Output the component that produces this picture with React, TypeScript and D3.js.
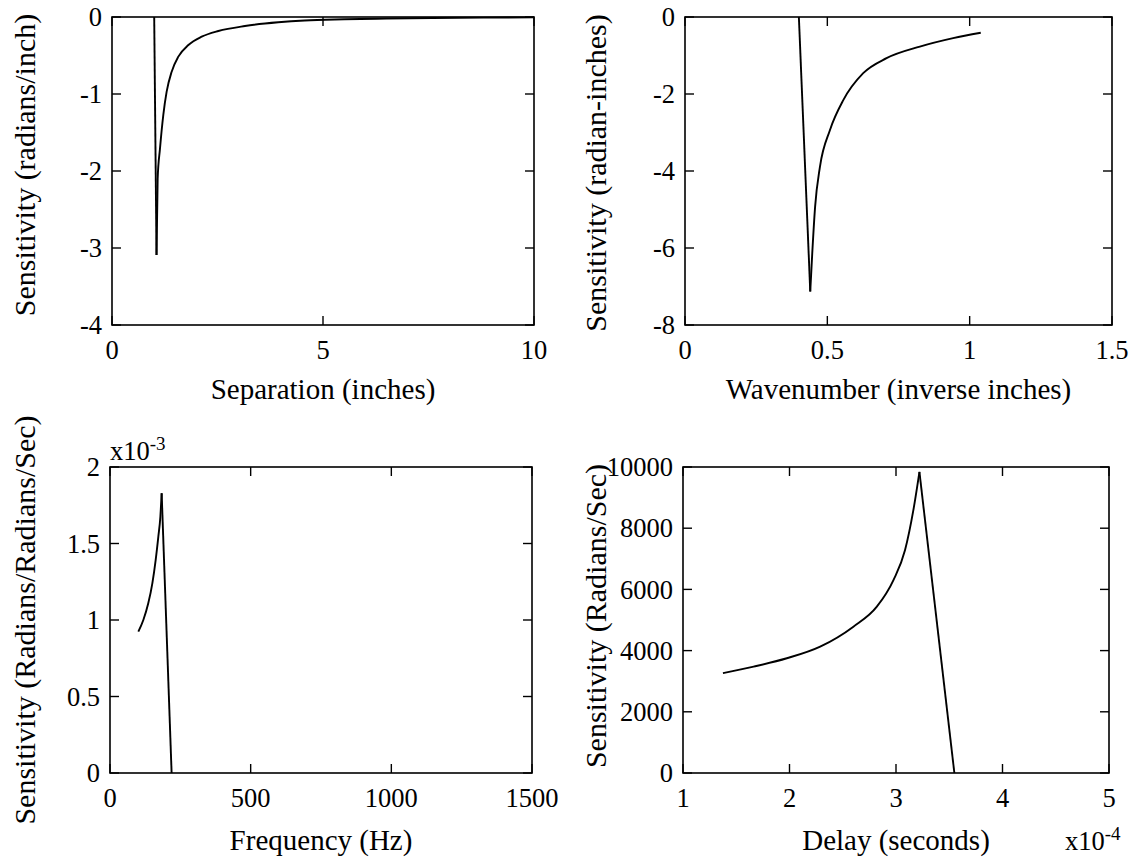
import React from "react";
import * as d3 from "d3";

// Panel 1: Separation (inches) vs Sensitivity (radians/inch)
const sepX = [1.0, 1.055, 1.082, 1.137, 1.216, 1.295, 1.414, 1.572, 1.81, 2.125, 2.52, 3.15, 3.94, 4.57, 5.5, 6.5, 7.6, 8.8, 10];
const sepY = [0, -3.09, -2.10, -1.71, -1.27, -0.97, -0.71, -0.515, -0.364, -0.256, -0.182, -0.117, -0.069, -0.045, -0.03, -0.02, -0.013, -0.008, -0.005];
const sepXTicks = [0, 5, 10];
const sepYTicks = [0, -1, -2, -3, -4];

// Panel 2: Wavenumber (inverse inches) vs Sensitivity (radian-inches)
const waveX = [0.4, 0.44, 0.447, 0.457, 0.474, 0.509, 0.556, 0.626, 0.708, 0.825, 0.942, 1.039];
const waveY = [0, -7.13, -6.14, -4.93, -3.89, -2.94, -2.16, -1.46, -1.07, -0.77, -0.55, -0.41];
const waveXTicks = [0, 0.5, 1, 1.5];
const waveYTicks = [0, -2, -4, -6, -8];

// Panel 3: Frequency (Hz) vs Sensitivity (x10^-3)
const freqX = [100.7, 118.5, 136, 150.5, 162.3, 171.8, 179, 183.6, 219];
const freqY = [0.924, 1.0, 1.109, 1.24, 1.392, 1.545, 1.675, 1.828, 0];
const freqXTicks = [0, 500, 1000, 1500];
const freqYTicks = [0, 0.5, 1, 1.5, 2];

// Panel 4: Delay (x10^-4 seconds) vs Sensitivity (Radians/Sec)
const delayX = [1.375, 1.663, 1.975, 2.288, 2.6, 2.82, 2.976, 3.085, 3.163, 3.22, 3.548];
const delayY = [3262, 3477, 3750, 4130, 4783, 5435, 6305, 7284, 8588, 9838, 0];
const delayXTicks = [1, 2, 3, 4, 5];
const delayYTicks = [0, 2000, 4000, 6000, 8000, 10000];

const FONT = "\"Liberation Serif\", Tinos, \"Times New Roman\", Times, \"DejaVu Serif\", serif";
const TICK_FS = 26.5;
const LABEL_FS = 29;
const YLABEL_FS = 30;

type PanelProps = {
  left: number; right: number; top: number; bottom: number;
  xDomain: [number, number]; yDomain: [number, number];
  xTicks: number[]; yTicks: number[];
  xs: number[]; ys: number[];
  xLabel: string; yLabel: string;
  yLabelX: number; yLabelY: number;
  xLabelY: number;
};

function Panel(p: PanelProps) {
  const x = d3.scaleLinear().domain(p.xDomain).range([p.left, p.right]);
  const y = d3.scaleLinear().domain(p.yDomain).range([p.bottom, p.top]);
  const pts = p.xs.map((v, i) => [v, p.ys[i]] as [number, number]);
  // split at the extreme point: straight segment on one side, smooth curve on the other
  const absY = p.ys.map(v => Math.abs(v));
  const ext = absY.indexOf(d3.max(absY) as number);
  const straightBefore = ext <= 1;
  const straight = straightBefore ? pts.slice(0, ext + 1) : pts.slice(ext);
  const smooth = straightBefore ? pts.slice(ext) : pts.slice(0, ext + 1);
  const lin = d3.line<[number, number]>().x(d => x(d[0])).y(d => y(d[1]));
  const cur = d3.line<[number, number]>().x(d => x(d[0])).y(d => y(d[1])).curve(d3.curveMonotoneX);
  const tl = 9;
  const style = { fontFamily: FONT };
  return (
    <g>
      <rect x={p.left} y={p.top} width={p.right - p.left} height={p.bottom - p.top}
        fill="none" stroke="#000" strokeWidth={1.6} />
      {p.xTicks.map(t => (
        <g key={"xt" + t}>
          <line x1={x(t)} x2={x(t)} y1={p.bottom} y2={p.bottom - tl} stroke="#000" strokeWidth={1.4} />
          <line x1={x(t)} x2={x(t)} y1={p.top} y2={p.top + tl} stroke="#000" strokeWidth={1.4} />
          <text x={x(t)} y={p.bottom + 34} textAnchor="middle" fontSize={TICK_FS} style={style}>{String(t)}</text>
        </g>
      ))}
      {p.yTicks.map(t => (
        <g key={"yt" + t}>
          <line x1={p.left} x2={p.left + tl} y1={y(t)} y2={y(t)} stroke="#000" strokeWidth={1.4} />
          <line x1={p.right} x2={p.right - tl} y1={y(t)} y2={y(t)} stroke="#000" strokeWidth={1.4} />
          <text x={p.left - 10} y={y(t)} dy="0.35em" textAnchor="end" fontSize={TICK_FS} style={style}>{String(t)}</text>
        </g>
      ))}
      <path d={lin(straight) || ""} fill="none" stroke="#000" strokeWidth={1.9} />
      <path d={cur(smooth) || ""} fill="none" stroke="#000" strokeWidth={1.9} />
      <text x={(p.left + p.right) / 2} y={p.xLabelY} textAnchor="middle" fontSize={LABEL_FS} style={style}>{p.xLabel}</text>
      <text transform={`translate(${p.yLabelX},${p.yLabelY}) rotate(-90)`} textAnchor="middle" fontSize={YLABEL_FS} style={style}>{p.yLabel}</text>
    </g>
  );
}

export default function App() {
  const style = { fontFamily: FONT };
  return (
    <svg width={1141} height={864} style={{ position: "absolute", left: 0, top: 0, background: "#fff" }}>
      <rect x={0} y={0} width={1141} height={864} fill="#fff" />
      <Panel left={112} right={534} top={17} bottom={325}
        xDomain={[0, 10]} yDomain={[-4, 0]} xTicks={sepXTicks} yTicks={sepYTicks}
        xs={sepX} ys={sepY} xLabel="Separation (inches)" yLabel="Sensitivity (radians/inch)"
        yLabelX={35} yLabelY={165} xLabelY={399} />
      <Panel left={685} right={1112} top={17} bottom={325}
        xDomain={[0, 1.5]} yDomain={[-8, 0]} xTicks={waveXTicks} yTicks={waveYTicks}
        xs={waveX} ys={waveY} xLabel="Wavenumber (inverse inches)" yLabel="Sensitivity (radian-inches)"
        yLabelX={606} yLabelY={173} xLabelY={399} />
      <Panel left={110} right={532} top={467} bottom={773}
        xDomain={[0, 1500]} yDomain={[0, 2]} xTicks={freqXTicks} yTicks={freqYTicks}
        xs={freqX} ys={freqY} xLabel="Frequency (Hz)" yLabel="Sensitivity (Radians/Radians/Sec)"
        yLabelX={35} yLabelY={620} xLabelY={850} />
      <Panel left={683} right={1109} top={467} bottom={773}
        xDomain={[1, 5]} yDomain={[0, 10000]} xTicks={delayXTicks} yTicks={delayYTicks}
        xs={delayX} ys={delayY} xLabel="Delay (seconds)" yLabel="Sensitivity (Radians/Sec)"
        yLabelX={606} yLabelY={616} xLabelY={850} />
      <text x={110} y={460} fontSize={TICK_FS} style={style}>
        x10<tspan fontSize={19} dy={-10}>-3</tspan>
      </text>
      <text x={1065} y={850} fontSize={TICK_FS} style={style}>
        x10<tspan fontSize={19} dy={-10}>-4</tspan>
      </text>
    </svg>
  );
}
